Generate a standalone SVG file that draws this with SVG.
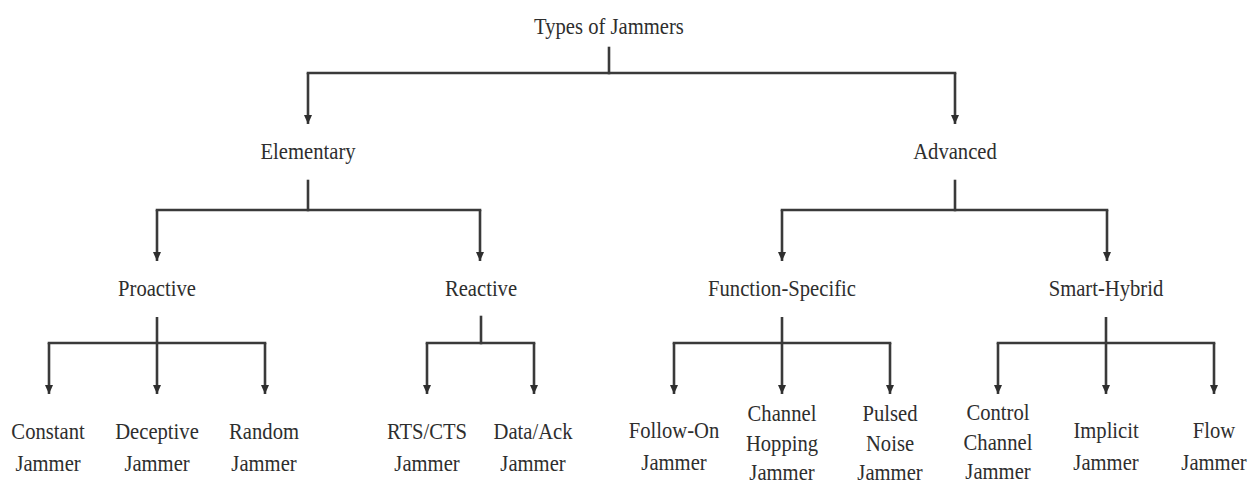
<svg xmlns="http://www.w3.org/2000/svg" width="1260" height="486" viewBox="0 0 1260 486">
  <style>
    .lbl { font-family: "Liberation Serif", "Times New Roman", serif; font-size: 24px; fill: #2e2e2e; text-anchor: middle;
           transform-box: fill-box; transform-origin: center; transform: scale(0.86, 1); }
    .ln { fill: none; stroke: #3a3a3a; stroke-width: 2.6; stroke-linecap: square; }
    .ar { fill: none; stroke: #3a3a3a; stroke-width: 2.6; marker-end: url(#tip); }
  </style>
  <defs>
    <marker id="tip" markerUnits="userSpaceOnUse" markerWidth="10" markerHeight="10" refX="9" refY="5" orient="auto">
      <path d="M0,1 L9,5 L0,9 z" fill="#2e2e2e"/>
    </marker>
  </defs>
  <rect width="1260" height="486" fill="#ffffff"/>

  <g id="connectors">
    <!-- root split -->
    <line class="ln" x1="609" y1="48" x2="609" y2="73"/>
    <line class="ln" x1="308" y1="73" x2="955" y2="73"/>
    <line class="ar" x1="308" y1="73" x2="308" y2="124"/>
    <line class="ar" x1="955" y1="73" x2="955" y2="124"/>
    <!-- Elementary split -->
    <line class="ln" x1="308" y1="181" x2="308" y2="210"/>
    <line class="ln" x1="157" y1="210" x2="480" y2="210"/>
    <line class="ar" x1="157" y1="210" x2="157" y2="261"/>
    <line class="ar" x1="480" y1="210" x2="480" y2="261"/>
    <!-- Advanced split -->
    <line class="ln" x1="955" y1="181" x2="955" y2="210"/>
    <line class="ln" x1="782" y1="210" x2="1107" y2="210"/>
    <line class="ar" x1="782" y1="210" x2="782" y2="261"/>
    <line class="ar" x1="1107" y1="210" x2="1107" y2="261"/>
    <!-- Proactive split -->
    <line class="ln" x1="49" y1="343" x2="265" y2="343"/>
    <line class="ar" x1="157" y1="317" x2="157" y2="394"/>
    <line class="ar" x1="49" y1="343" x2="49" y2="394"/>
    <line class="ar" x1="265" y1="343" x2="265" y2="394"/>
    <!-- Reactive split -->
    <line class="ln" x1="481" y1="317" x2="481" y2="343"/>
    <line class="ln" x1="427" y1="343" x2="534" y2="343"/>
    <line class="ar" x1="427" y1="343" x2="427" y2="394"/>
    <line class="ar" x1="534" y1="343" x2="534" y2="394"/>
    <!-- Function-Specific split -->
    <line class="ln" x1="674" y1="343" x2="890" y2="343"/>
    <line class="ar" x1="782" y1="317" x2="782" y2="394"/>
    <line class="ar" x1="674" y1="343" x2="674" y2="394"/>
    <line class="ar" x1="890" y1="343" x2="890" y2="394"/>
    <!-- Smart-Hybrid split -->
    <line class="ln" x1="998" y1="343" x2="1214" y2="343"/>
    <line class="ar" x1="1106" y1="317" x2="1106" y2="394"/>
    <line class="ar" x1="998" y1="343" x2="998" y2="394"/>
    <line class="ar" x1="1214" y1="343" x2="1214" y2="394"/>
  </g>

  <g id="types-of-jammers"><text class="lbl" x="609" y="34">Types of Jammers</text></g>
  <g id="elementary"><text class="lbl" x="308" y="159">Elementary</text></g>
  <g id="advanced"><text class="lbl" x="955" y="159">Advanced</text></g>
  <g id="proactive"><text class="lbl" x="157" y="296">Proactive</text></g>
  <g id="reactive"><text class="lbl" x="481" y="296">Reactive</text></g>
  <g id="function-specific"><text class="lbl" x="782" y="296">Function-Specific</text></g>
  <g id="smart-hybrid"><text class="lbl" x="1106" y="296">Smart-Hybrid</text></g>

  <g id="constant-jammer"><text class="lbl" x="48" y="439">Constant</text><text class="lbl" x="48" y="471">Jammer</text></g>
  <g id="deceptive-jammer"><text class="lbl" x="157" y="439">Deceptive</text><text class="lbl" x="157" y="471">Jammer</text></g>
  <g id="random-jammer"><text class="lbl" x="264" y="439">Random</text><text class="lbl" x="264" y="471">Jammer</text></g>
  <g id="rts-cts-jammer"><text class="lbl" x="427" y="439">RTS/CTS</text><text class="lbl" x="427" y="471">Jammer</text></g>
  <g id="data-ack-jammer"><text class="lbl" x="533" y="439">Data/Ack</text><text class="lbl" x="533" y="471">Jammer</text></g>
  <g id="follow-on-jammer"><text class="lbl" x="674" y="438">Follow-On</text><text class="lbl" x="674" y="470">Jammer</text></g>
  <g id="channel-hopping-jammer"><text class="lbl" x="782" y="421">Channel</text><text class="lbl" x="782" y="451">Hopping</text><text class="lbl" x="782" y="480">Jammer</text></g>
  <g id="pulsed-noise-jammer"><text class="lbl" x="890" y="421">Pulsed</text><text class="lbl" x="890" y="451">Noise</text><text class="lbl" x="890" y="480">Jammer</text></g>
  <g id="control-channel-jammer"><text class="lbl" x="998" y="420">Control</text><text class="lbl" x="998" y="450">Channel</text><text class="lbl" x="998" y="479">Jammer</text></g>
  <g id="implicit-jammer"><text class="lbl" x="1106" y="438">Implicit</text><text class="lbl" x="1106" y="470">Jammer</text></g>
  <g id="flow-jammer"><text class="lbl" x="1214" y="438">Flow</text><text class="lbl" x="1214" y="470">Jammer</text></g>
</svg>
